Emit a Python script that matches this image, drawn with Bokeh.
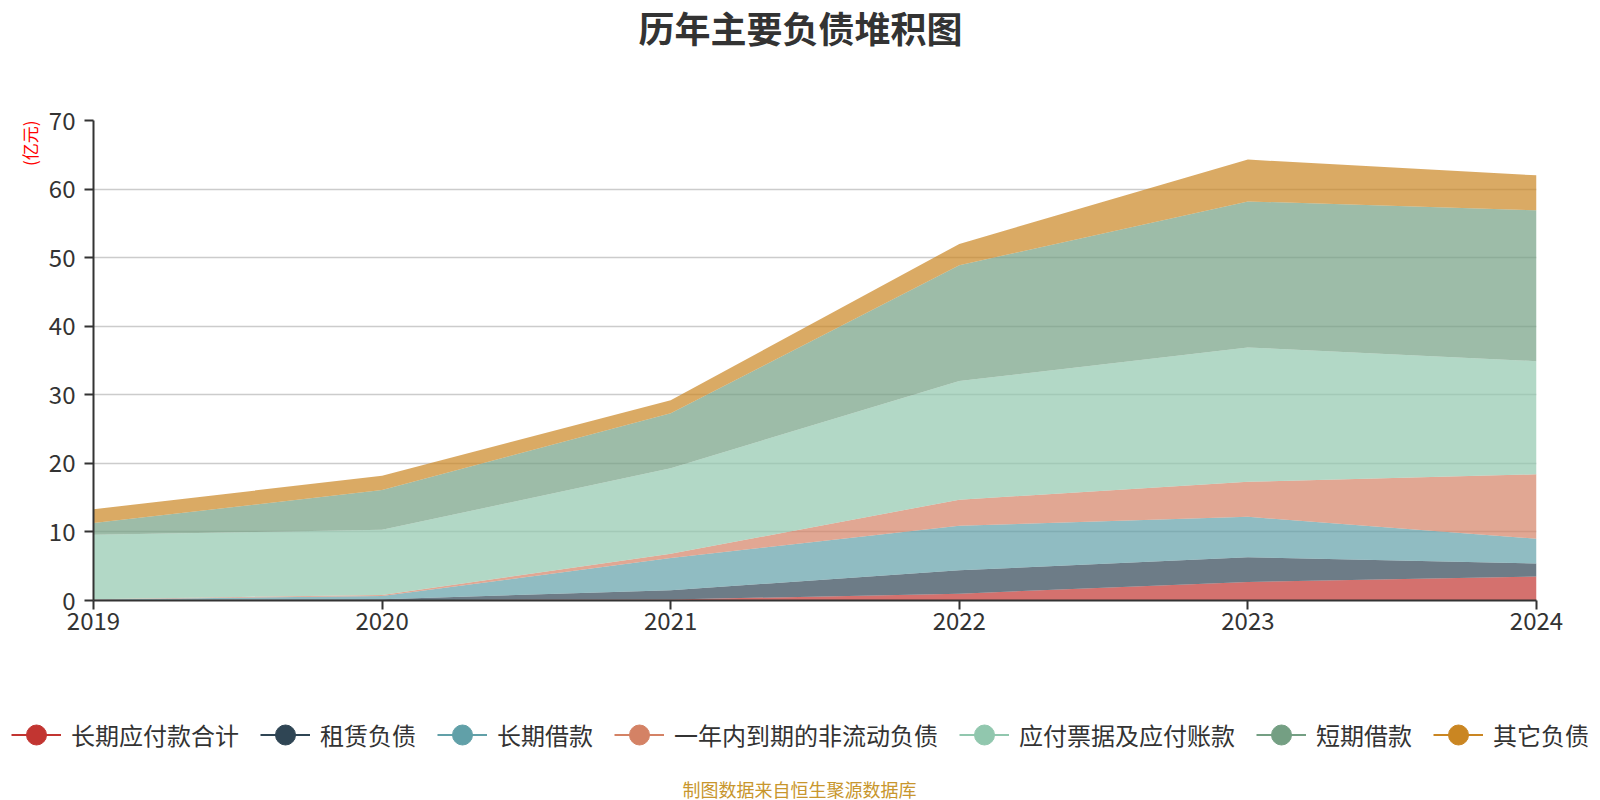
from bokeh.plotting import figure
from bokeh.models import (ColumnDataSource, Legend, LegendItem, Label, FixedTicker,
                          Range1d, Title)
from bokeh.embed import file_html
from bokeh.resources import INLINE

years = [2019, 2020, 2021, 2022, 2023, 2024]
series_names = ["长期应付款合计", "租赁负债", "长期借款", "一年内到期的非流动负债",
                "应付票据及应付账款", "短期借款", "其它负债"]
lt_payable = [0.05, 0.05, 0.15, 1.0, 2.7, 3.5]
lease = [0.05, 0.15, 1.35, 3.4, 3.6, 1.9]
lt_loan = [0.05, 0.45, 4.7, 6.5, 5.9, 3.6]
current_nc = [0.05, 0.15, 0.6, 3.8, 5.1, 9.4]
notes_payable = [9.4, 9.5, 12.5, 17.3, 19.6, 16.5]
st_loan = [1.7, 5.8, 8.0, 16.9, 21.3, 22.0]
other = [2.0, 2.1, 1.9, 3.1, 6.1, 5.1]
colors = ["#c23531", "#2f4554", "#61a0a8", "#d48265", "#91c7ae", "#749f83", "#ca8622"]
y_ticks = [0, 10, 20, 30, 40, 50, 60, 70]
title_text = "历年主要负债堆积图"
unit_text = "(亿元)"
source_text = "制图数据来自恒生聚源数据库"

FONT = "Noto Sans CJK SC"
W = 1600
NAN = float("nan")


def blank_fig(h):
    f = figure(width=W, height=h, output_backend="svg", toolbar_location=None,
               x_range=Range1d(0, W), y_range=Range1d(h, 0),
               x_axis_location=None, y_axis_location=None,
               min_border=0, min_border_left=0, min_border_right=0,
               min_border_top=0, min_border_bottom=0)
    f.outline_line_color = None
    f.xgrid.visible = False
    f.ygrid.visible = False
    return f


# ---- top: title ----
top = blank_fig(100)
top.add_layout(Label(x=800, y=26, text=title_text, text_font=FONT,
                     text_font_size="36px", text_font_style="bold",
                     text_color="#333333", text_align="center", text_baseline="middle"))

# ---- main chart ----
keys = ["s0", "s1", "s2", "s3", "s4", "s5", "s6"]
data = dict(year=years)
for k, v in zip(keys, [lt_payable, lease, lt_loan, current_nc, notes_payable, st_loan, other]):
    data[k] = v
source = ColumnDataSource(data)

p = figure(width=W, height=544, output_backend="svg", toolbar_location=None,
           x_range=Range1d(2019, 2024), y_range=Range1d(0, 70),
           min_border_left=93, min_border_right=64, min_border_top=20, min_border_bottom=44)
p.outline_line_color = None
p.varea_stack(stackers=keys, x="year", color=colors, fill_alpha=0.7, source=source)

for ax in (p.xaxis[0], p.yaxis[0]):
    ax.axis_line_color = "#333333"
    ax.axis_line_width = 2
    ax.major_tick_line_color = "#333333"
    ax.major_tick_line_width = 2
    ax.major_tick_out = 9
    ax.major_tick_in = 0
    ax.minor_tick_line_color = None
    ax.major_label_text_font = FONT
    ax.major_label_text_font_size = "24px"
    ax.major_label_text_color = "#333333"
p.xaxis.ticker = FixedTicker(ticks=years)
p.yaxis.ticker = FixedTicker(ticks=y_ticks)
p.xaxis.major_label_standoff = 2
p.yaxis.major_label_standoff = 9
p.xgrid.grid_line_color = None
p.ygrid.grid_line_color = "#cccccc"
p.ygrid.grid_line_width = 1.5

p.add_layout(Title(text=unit_text, align="right", text_font=FONT, text_font_size="17px",
                   text_font_style="normal", text_color="#ff0000", standoff=8), "left")

# ---- bottom: legend + source ----
bot = blank_fig(156)
items = []
for name, c in zip(series_names, colors):
    lr = bot.line(x=[NAN], y=[NAN], line_color=c, line_width=2)
    sr = bot.scatter(x=[NAN], y=[NAN], size=23, fill_color=c, line_color=c)
    items.append(LegendItem(label=name, renderers=[lr, sr]))
legend = Legend(items=items, orientation="horizontal", location=(11, 37),
                glyph_width=50, glyph_height=57, label_standoff=10, spacing=21,
                padding=0, margin=0, border_line_color=None, background_fill_alpha=0,
                label_text_font=FONT, label_text_font_size="24px", label_text_color="#333333")
bot.add_layout(legend, "center")
bot.add_layout(Label(x=799, y=144, text=source_text, text_font=FONT,
                     text_font_size="18px", text_color="#c8962d",
                     text_align="center", text_baseline="middle"))

open("out.html", "w").write(file_html([top, p, bot], INLINE))
